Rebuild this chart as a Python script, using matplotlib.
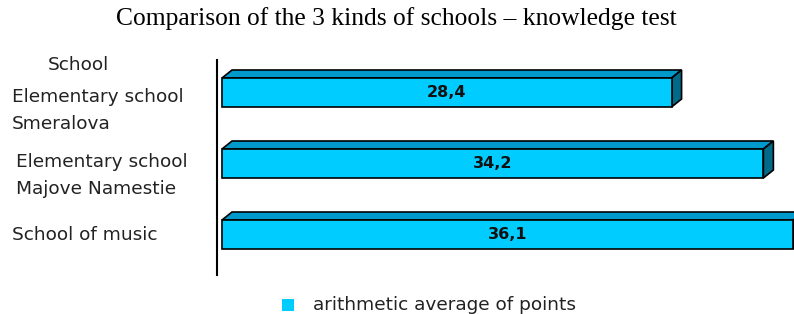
import matplotlib
matplotlib.use("Agg")
import matplotlib.pyplot as plt
from matplotlib.patches import Polygon

# ---- data ----
categories = ["Elementary school\nSmeralova", "Elementary school\nMajove Namestie", "School of music"]
values = [28.4, 34.2, 36.1]
value_labels = ["28,4", "34,2", "36,1"]
legend_label = "arithmetic average of points"
axis_title = "School"
title = "Comparison of the 3 kinds of schools \u2013 knowledge test"

W, H = 794, 314
fig = plt.figure(figsize=(W / 100, H / 100), dpi=100)

# axes placement in pixels
ax_left, ax_right, ax_top, ax_bottom = 217, 794, 60, 275
ax = fig.add_axes([ax_left / W, 1 - ax_bottom / H, (ax_right - ax_left) / W, (ax_bottom - ax_top) / H])

px_per_unit = 15.83
zero_px = 222
ax.set_xlim(-(zero_px - ax_left) / px_per_unit, (ax_right - zero_px) / px_per_unit)

row_px = 71.0
first_center = 92.5
ax.set_ylim((ax_bottom - first_center) / row_px, (ax_top - first_center) / row_px)

front = "#00CCFF"
top_c = "#0099CC"
side_c = "#006A88"
bar_h = 29 / row_px
dx = 10 / px_per_unit
dy = 8 / row_px

ypos = list(range(len(values)))
bars = ax.barh(ypos, values, height=bar_h, color=front, edgecolor="black", linewidth=1.2, zorder=3)

for b in bars:
    x0 = b.get_x()
    w = b.get_width()
    yt = b.get_y()
    yb = yt + b.get_height()
    # top face
    ax.add_patch(Polygon([(x0, yt), (x0 + dx, yt - dy), (x0 + w + dx, yt - dy), (x0 + w, yt)],
                         closed=True, facecolor=top_c, edgecolor="black", linewidth=1.2, zorder=2))
    # side face
    ax.add_patch(Polygon([(x0 + w, yt), (x0 + w + dx, yt - dy), (x0 + w + dx, yb - dy), (x0 + w, yb)],
                         closed=True, facecolor=side_c, edgecolor="black", linewidth=1.2, zorder=2))

for b, lab in zip(bars, value_labels):
    ax.text(b.get_x() + b.get_width() / 2, b.get_y() + b.get_height() / 2, lab,
            ha="center", va="center", fontsize=11.5, fontweight="bold", color="#111111",
            family="DejaVu Sans", zorder=4)

for s in ["top", "right", "bottom"]:
    ax.spines[s].set_visible(False)
ax.spines["left"].set_linewidth(1.5)
ax.set_xticks([])
ax.set_yticks([])

# category labels (left side)
label_font = dict(family="DejaVu Sans", fontsize=13.3, color="#222222")
label_x_px = [12, 16, 12]
label_center_offsets_px = [18, 12, 1]
for i, (cat, lx, off) in enumerate(zip(categories, label_x_px, label_center_offsets_px)):
    cy = first_center + row_px * i + off
    fig.text(lx / W, 1 - cy / H, cat, ha="left", va="center", linespacing=1.67, **label_font)

fig.text(78 / W, 1 - 65 / H, axis_title, ha="center", va="center", **label_font)

# title
fig.text(396 / W, 1 - 19 / H, title, ha="center", va="center", family="Liberation Serif", fontsize=18.4)

# legend
fig.patches.append(plt.Rectangle((282 / W, 1 - 311 / H), 12 / W, 12 / H, transform=fig.transFigure,
                                 facecolor=front, edgecolor="none"))
fig.text(313 / W, 1 - 305 / H, legend_label, ha="left", va="center", **label_font)

fig.savefig("out.png", dpi=100)
